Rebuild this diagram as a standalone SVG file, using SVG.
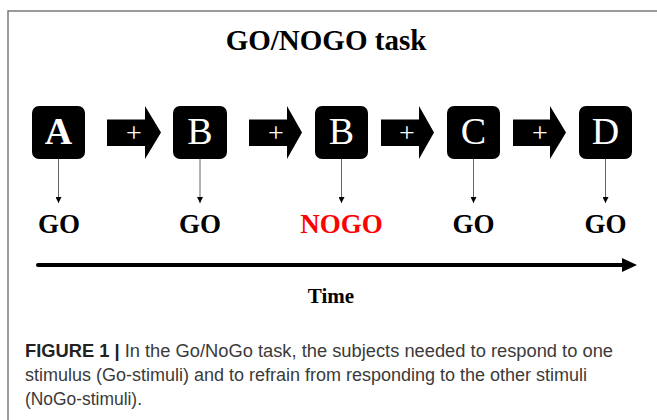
<svg xmlns="http://www.w3.org/2000/svg" width="657" height="420" viewBox="0 0 657 420">
<style>
.frame{fill:none;stroke:#7a7a7a;stroke-width:1.5}
.box{fill:#000}
.lt{font-family:"Liberation Serif","Times New Roman",serif;fill:#fff;font-size:38px;text-anchor:middle}
.plus{font-family:"Liberation Serif","Times New Roman",serif;fill:#fff;font-size:28px;text-anchor:middle}
.blk{fill:#000}
.go{font-family:"Liberation Serif","Times New Roman",serif;font-weight:bold;font-size:27px;text-anchor:middle;fill:#000}
.nogo{fill:#ff0000}
.title{font-family:"Liberation Serif","Times New Roman",serif;font-weight:bold;font-size:29px;text-anchor:middle;fill:#000}
.time{font-family:"Liberation Serif","Times New Roman",serif;font-weight:bold;font-size:21px;text-anchor:middle;fill:#000}
.drop{stroke:#666;stroke-width:1;fill:none}
.cap{font-family:"Liberation Sans",Arial,sans-serif;font-size:17.5px;fill:#3a3a3a}
.capb{font-weight:bold;fill:#222}
</style>
<defs>
<marker id="ah" markerWidth="6" markerHeight="6" refX="6" refY="3" orient="auto" markerUnits="userSpaceOnUse">
<path d="M0,0 L6,3 L0,6 Z" fill="#000"/>
</marker>
</defs>
<path class="frame" d="M657,11 H8 V420"/>
<text class="title" x="326" y="50">GO/NOGO task</text>

<g id="nodeA"><rect class="box" x="32" y="106" width="53" height="53" rx="7"/><text class="lt" x="58.5" y="144" font-weight="bold">A</text></g>
<g id="nodeB1"><rect class="box" x="173" y="106" width="54" height="53" rx="7"/><text class="lt" x="200" y="144">B</text></g>
<g id="nodeB2"><rect class="box" x="315" y="106" width="53" height="53" rx="7"/><text class="lt" x="341.5" y="144">B</text></g>
<g id="nodeC"><rect class="box" x="447" y="106" width="53" height="53" rx="7"/><text class="lt" x="473.5" y="144">C</text></g>
<g id="nodeD"><rect class="box" x="579" y="106" width="53" height="53" rx="7"/><text class="lt" x="605.5" y="144">D</text></g>

<g id="labels">
<text class="go" x="59" y="233">GO</text>
<text class="go" x="200" y="233">GO</text>
<text class="go nogo" x="341.5" y="233">NOGO</text>
<text class="go" x="473.5" y="233">GO</text>
<text class="go" x="605.5" y="233">GO</text>
</g>

<g id="connectors">
<g id="arrow1"><path class="blk" d="M107,119.5 H145 V106 L161,132.5 L145,159 V146 H107 Z"/><text class="plus" x="134" y="142">+</text></g>
<g id="arrow2"><path class="blk" d="M249,119.5 H287 V106 L302,132.5 L287,159 V146 H249 Z"/><text class="plus" x="276" y="142">+</text></g>
<g id="arrow3"><path class="blk" d="M381,119.5 H419 V106 L434,132.5 L419,159 V146 H381 Z"/><text class="plus" x="407" y="142">+</text></g>
<g id="arrow4"><path class="blk" d="M513,119.5 H550 V106 L566,132.5 L550,159 V146 H513 Z"/><text class="plus" x="540" y="142">+</text></g>
<line class="drop" x1="58.5" y1="159" x2="58.5" y2="203" marker-end="url(#ah)"/>
<line class="drop" x1="200" y1="159" x2="200" y2="203" marker-end="url(#ah)"/>
<line class="drop" x1="341.5" y1="159" x2="341.5" y2="203" marker-end="url(#ah)"/>
<line class="drop" x1="473.5" y1="159" x2="473.5" y2="203" marker-end="url(#ah)"/>
<line class="drop" x1="605.5" y1="159" x2="605.5" y2="203" marker-end="url(#ah)"/>
<g id="timeaxis"><line x1="38" y1="265" x2="624" y2="265" stroke="#000" stroke-width="4" stroke-linecap="round"/><path d="M622,258 L637,265 L622,272 Z" fill="#000"/></g>
</g>
<text class="time" x="331" y="303">Time</text>

<text class="cap" x="25" y="357" textLength="588" lengthAdjust="spacingAndGlyphs"><tspan class="capb">FIGURE 1 |</tspan> In the Go/NoGo task, the subjects needed to respond to one</text>
<text class="cap" x="25" y="381" textLength="562" lengthAdjust="spacingAndGlyphs">stimulus (Go-stimuli) and to refrain from responding to the other stimuli</text>
<text class="cap" x="25" y="405" textLength="117" lengthAdjust="spacingAndGlyphs">(NoGo-stimuli).</text>
</svg>
